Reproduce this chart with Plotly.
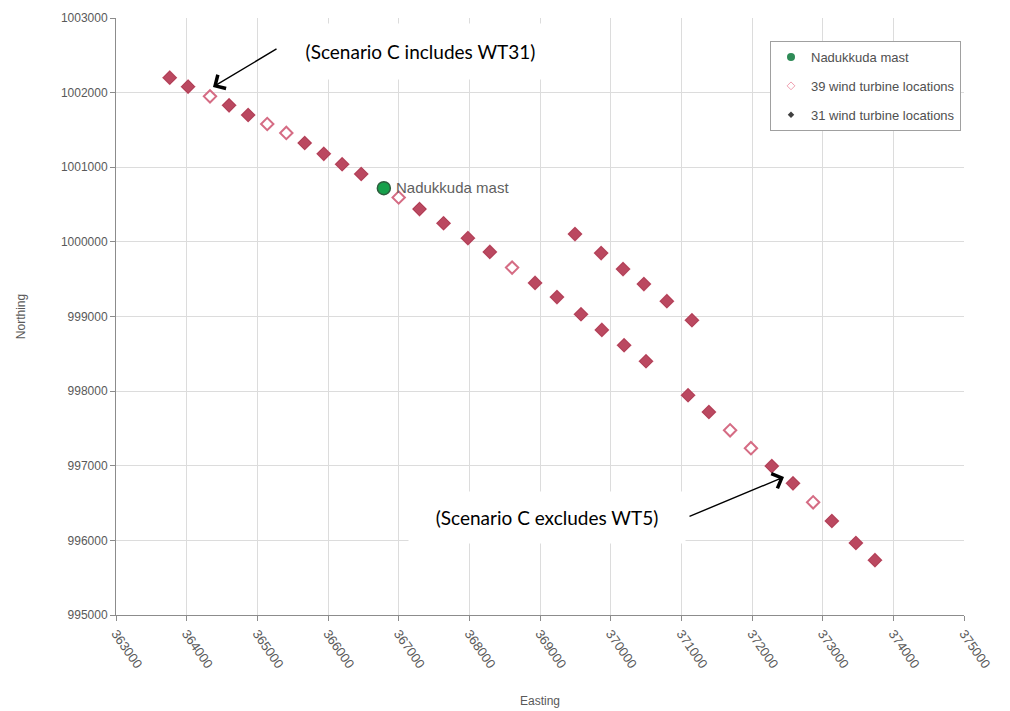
import plotly.graph_objects as go

# ---- data ----
x39 = [363760, 364020, 364330, 364600, 364870, 365140, 365410, 365670, 365940, 366200,
       366470, 367000, 367295, 367635, 367980, 368290, 368605, 368930, 369240, 369580,
       369875, 370190, 370500,
       369495, 369865, 370175, 370470, 370795, 371150,
       371095, 371390, 371690, 371985, 372280, 372580, 372865, 373130, 373470, 373740]
y39 = [1002200, 1002080, 1001950, 1001830, 1001700, 1001580, 1001460, 1001325, 1001180, 1001040,
       1000910, 1000595, 1000440, 1000250, 1000050, 999865, 999655, 999450, 999260, 999030,
       998820, 998615, 998400,
       1000105, 999850, 999635, 999435, 999205, 998950,
       997945, 997720, 997475, 997235, 996995, 996765, 996510, 996260, 995965, 995735]

x31 = [363760, 364020, 364600, 364870, 365670, 365940, 366200, 366470,
       367295, 367635, 367980, 368290, 368930, 369240, 369580, 369875, 370190, 370500,
       369495, 369865, 370175, 370470, 370795, 371150,
       371095, 371390, 372280, 372580, 373130, 373470, 373740]
y31 = [1002200, 1002080, 1001830, 1001700, 1001325, 1001180, 1001040, 1000910,
       1000440, 1000250, 1000050, 999865, 999450, 999260, 999030, 998820, 998615, 998400,
       1000105, 999850, 999635, 999435, 999205, 998950,
       997945, 997720, 996995, 996765, 996260, 995965, 995735]

mast_x = [366790]
mast_y = [1000720]

x_ticks = list(range(363000, 376000, 1000))
y_ticks = list(range(995000, 1004000, 1000))

# ---- styles ----
RED = "#BB4860"
PINK = "#D56C84"
GREEN = "#17A04B"
GRID = "#DCDCDC"
AXIS = "#8C8C8C"
TXT = "#595959"

fig = go.Figure()

fig.add_trace(go.Scatter(x=x39, y=y39, mode="markers", showlegend=False,
                         marker=dict(symbol="diamond", size=9.5, color="white",
                                     line=dict(color=PINK, width=2))))
fig.add_trace(go.Scatter(x=x31, y=y31, mode="markers", showlegend=False,
                         marker=dict(symbol="diamond", size=10, color=RED,
                                     line=dict(color="#A83D52", width=1))))
fig.add_trace(go.Scatter(x=mast_x, y=mast_y, mode="markers", showlegend=False,
                         marker=dict(symbol="circle", size=13, color=GREEN,
                                     line=dict(color="#2E5E3E", width=1.5))))

# legend entries
fig.add_trace(go.Scatter(x=[None], y=[None], mode="markers", name="Nadukkuda mast",
                         legendgroup="a",
                         marker=dict(symbol="circle", size=8, color="#2E8B57")))
fig.add_trace(go.Scatter(x=[None], y=[None], mode="markers", name="39 wind turbine locations",
                         legendgroup="b",
                         marker=dict(symbol="diamond", size=6, color="white",
                                     line=dict(color="#F0A0B0", width=1))))
fig.add_trace(go.Scatter(x=[None], y=[None], mode="markers", name="31 wind turbine locations",
                         legendgroup="c",
                         marker=dict(symbol="diamond", size=5, color="#404040")))

W, H = 1010, 711
OFF = 8  # page body margin
# plot area in screen pixels
PL, PR, PT, PB = 116, 964, 18, 615
pw, ph = PR - PL, PB - PT


def px(xs):
    return (xs - PL) / pw


def py(ys):
    return (PB - ys) / ph


fig.update_layout(
    width=W, height=H,
    margin=dict(l=PL - OFF, r=W - (PR - OFF), t=PT - OFF, b=H - (PB - OFF)),
    paper_bgcolor="white", plot_bgcolor="white",
    font=dict(family="Liberation Sans, Arial, sans-serif", color=TXT, size=12),
    legend=dict(x=px(770), y=py(41), xanchor="left", yanchor="top",
                bgcolor="white", bordercolor="#A0A0A0", borderwidth=1,
                font=dict(size=13, color="#505050"),
                traceorder="grouped", tracegroupgap=9, itemwidth=30),
    xaxis=dict(range=[363000, 375000], tickvals=x_ticks,
               ticktext=[str(v) for v in x_ticks], tickangle=55,
               showgrid=True, gridcolor=GRID, gridwidth=1,
               showline=True, linecolor=AXIS, linewidth=1,
               ticks="outside", ticklen=5, tickcolor=AXIS,
               tickfont=dict(size=13, color=TXT), zeroline=False, automargin=False,
               title=dict(text="Easting", font=dict(size=12, color=TXT), standoff=26)),
    yaxis=dict(range=[995000, 1003000], tickvals=y_ticks,
               ticktext=[str(v) for v in y_ticks],
               showgrid=True, gridcolor=GRID, gridwidth=1,
               showline=True, linecolor=AXIS, linewidth=1,
               ticks="outside", ticklen=5, tickcolor=AXIS,
               tickfont=dict(size=12, color=TXT), zeroline=False, automargin=False,
               title=dict(text="Northing", font=dict(size=12, color=TXT), standoff=32)),
)

# mast label
fig.add_annotation(x=mast_x[0], y=mast_y[0], xref="x", yref="y",
                   text="Nadukkuda mast", showarrow=False,
                   xanchor="left", yanchor="middle", xshift=10, yshift=1,
                   font=dict(size=15, color="#606060"))

# text boxes
ann_font = dict(family="Lato, Liberation Sans, sans-serif", size=19, color="black")
fig.add_annotation(x=px(420), y=py(52), xref="paper", yref="paper",
                   text="(Scenario C includes WT31)", showarrow=False,
                   width=275, height=55, bgcolor="white", borderpad=0,
                   xanchor="center", yanchor="middle", font=ann_font)
fig.add_annotation(x=px(547), y=py(517), xref="paper", yref="paper",
                   text="(Scenario C excludes WT5)", showarrow=False,
                   width=276, height=51, bgcolor="white", borderpad=0,
                   xanchor="center", yanchor="middle", font=ann_font)

# arrows
fig.add_annotation(x=px(213), y=py(87), xref="paper", yref="paper", text="",
                   showarrow=True, ax=65, ay=-39, axref="pixel", ayref="pixel",
                   arrowhead=4, arrowsize=2.2, arrowwidth=1.4, arrowcolor="black")
fig.add_annotation(x=px(784), y=py(477), xref="paper", yref="paper", text="",
                   showarrow=True, ax=-96, ay=40, axref="pixel", ayref="pixel",
                   arrowhead=4, arrowsize=2.2, arrowwidth=1.4, arrowcolor="black")

fig.write_html("out.html")
